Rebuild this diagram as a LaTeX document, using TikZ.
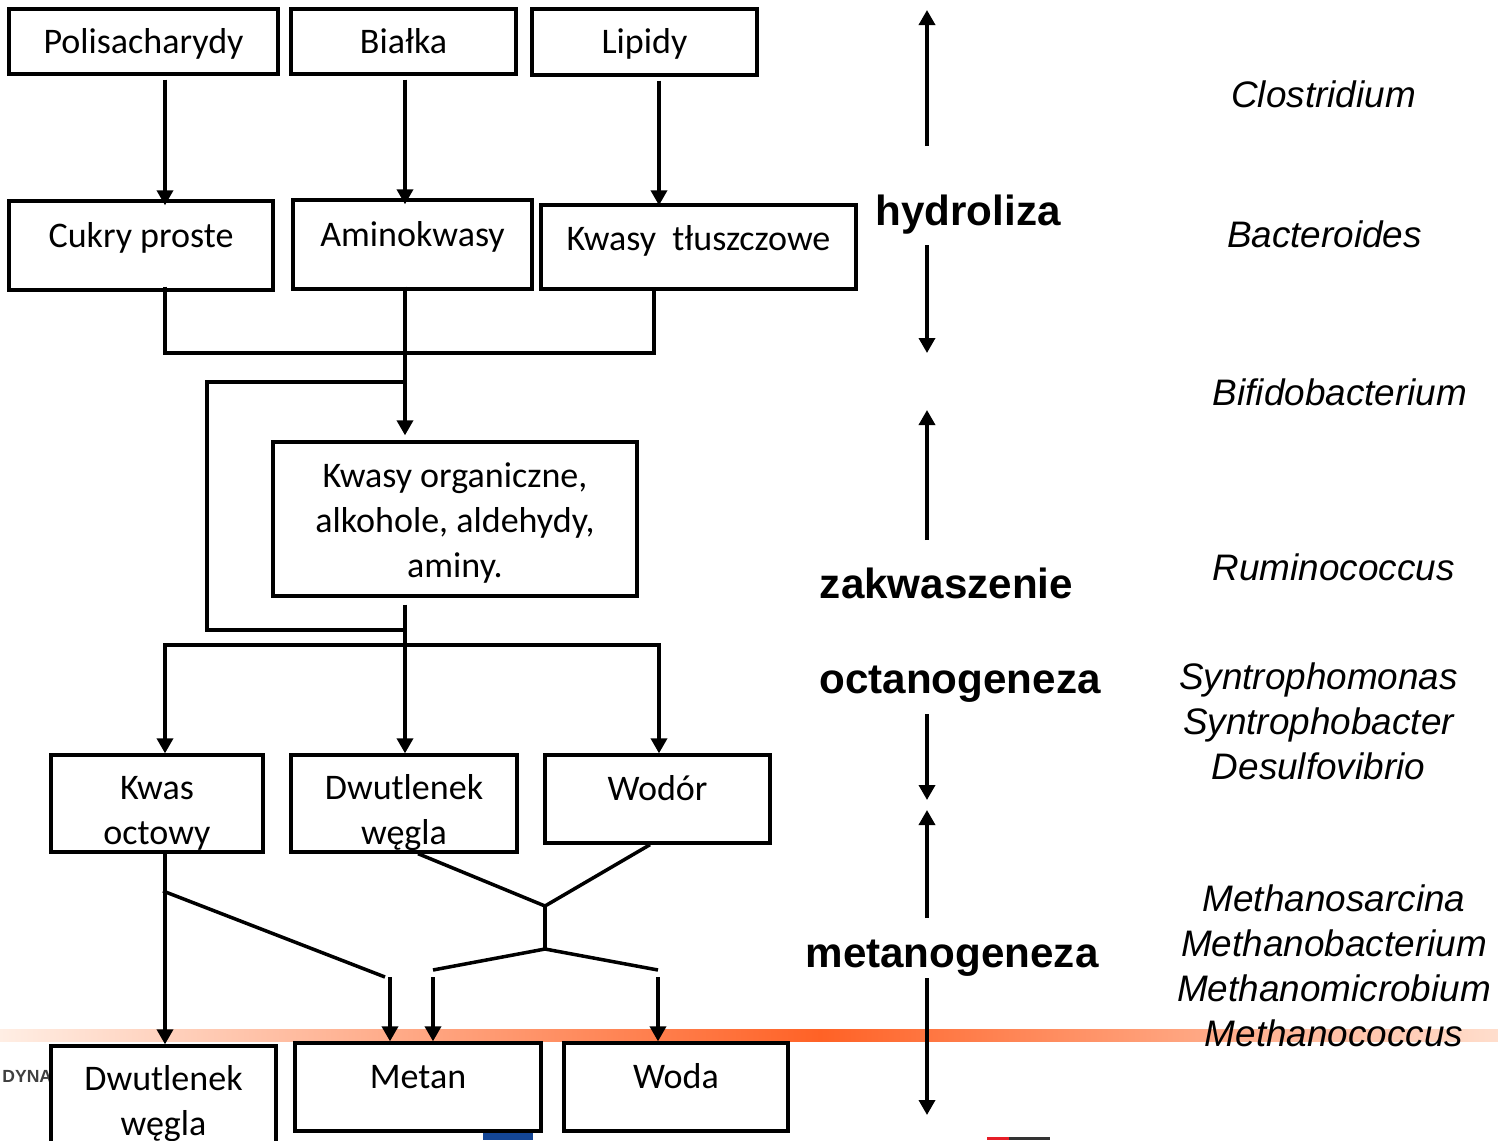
\documentclass[tikz,border=0pt]{standalone}
\usepackage{fontspec}
\setmainfont{Liberation Sans}
\newfontfamily\boxfont{Carlito}
\usetikzlibrary{arrows.meta,positioning}

\definecolor{barorange}{RGB}{255,98,38}
\definecolor{barpale}{RGB}{255,238,228}
\definecolor{barpaleright}{RGB}{255,222,205}
\definecolor{logoblue}{RGB}{20,70,150}
\definecolor{logored}{RGB}{230,30,40}

\tikzset{
    box/.style={draw, line width=1.9pt, fill=white, align=center, inner sep=0pt,
        font=\boxfont\fontsize{20.5}{25.5}\selectfont, text height=0.54cm, text depth=#1},
    box/.default=0.08cm,
    tall/.style={text height=#1, text depth=0.08cm},
    flow/.style={line width=2pt},
    arr/.style={line width=2pt, -{Triangle[length=0.3cm,width=0.32cm]}},
    phase/.style={font=\bfseries\fontsize{24}{29}\selectfont, anchor=base},
    genus/.style={font=\itshape\fontsize{21}{25.6}\selectfont, align=center, inner sep=0pt}
}

\begin{document}
\begin{tikzpicture}[x=0.02cm, y=-0.02cm]
    \useasboundingbox (0,0) rectangle (1498,1140);
    % footer of the slide
    \shade[left color=barpale, right color=barorange] (0,1029) rectangle (820,1041);
    \shade[left color=barorange, right color=barpaleright] (820,1029) rectangle (1498,1041);
    \node[font=\bfseries\fontsize{10}{11}\selectfont, text=black!75, anchor=base west, inner sep=0pt] (footer) at (2,1082) {DYNA};
    \fill[logoblue] (483,1133) rectangle (533,1140);
    \fill[logored] (987,1137) rectangle (1009,1140);
    \fill[black!80] (1009,1137) rectangle (1050,1140);

    % substrates
    \node[box, minimum width=5.38cm, minimum height=1.3cm] (poli) at (143.5,41.5) {Polisacharydy};
    \node[box, minimum width=4.5cm, minimum height=1.3cm] (bialka) at (403.5,41.5) {Białka};
    \node[box, minimum width=4.5cm, minimum height=1.32cm] (lipidy) at (644.5,42) {Lipidy};
    % monomers
    \node[box=0.48cm, minimum width=5.28cm, minimum height=1.78cm] (cukry) at (141,245.5) {Cukry proste};
    \node[box=0.46cm, minimum width=4.78cm, minimum height=1.78cm] (amino) at (412.5,244.5) {Aminokwasy};
    \node[box=0.40cm, minimum width=6.3cm, minimum height=1.68cm] (tluszcz) at (698.5,247) {Kwasy~~tłuszczowe};
    \node[box, tall=2.42cm, minimum width=7.28cm, minimum height=3.08cm] (org) at (455,519) {Kwasy organiczne,\\alkohole, aldehydy,\\aminy.};
    % acetogenesis products
    \node[box, tall=1.72cm, minimum width=4.24cm, minimum height=1.94cm] (octowy) at (157,803.5) {Kwas\\octowy};
    \node[box, tall=1.72cm, minimum width=4.52cm, minimum height=1.94cm] (dwutlA) at (404,803.5) {Dwutlenek\\węgla};
    \node[box=0.48cm, minimum width=4.5cm, minimum height=1.76cm] (wodor) at (657.5,799) {Wodór};
    % end products
    \node[box, tall=1.38cm, minimum width=4.5cm, minimum height=2.28cm] (dwutlB) at (163.5,1103) {Dwutlenek\\węgla};
    \node[box=0.48cm, minimum width=4.92cm, minimum height=1.76cm] (metan) at (418,1087) {Metan};
    \node[box=0.48cm, minimum width=4.48cm, minimum height=1.76cm] (woda) at (676,1087) {Woda};

    \coordinate (colA) at (165,0);
    \coordinate (colB) at (405,0);
    \coordinate (colC) at (659,0);
    \coordinate (colD) at (654,0);

    \draw[arr, shorten <=0.08cm, shorten >=-0.12cm] (poli.south -| colA) -- (cukry.north -| colA);
    \draw[arr, shorten <=0.08cm, shorten >=-0.12cm] (bialka.south -| colB) -- (amino.north -| colB);
    \draw[arr, shorten <=0.08cm, shorten >=-0.04cm] (lipidy.south -| colC) -- (tluszcz.north -| colC);

    \coordinate (merge) at (405,353);
    \draw[flow, shorten <=-0.1cm] (cukry.south -| colA) |- (merge) -| (tluszcz.south -| colD);
    \draw[arr, shorten <=-0.08cm, shorten >=0.1cm] (amino.south -| colB) -- (org.north -| colB);

    \coordinate (loopin) at (407,382);
    \coordinate (loopout) at (407,630);
    \draw[flow] (loopin) -- ++(-200,0) |- (loopout);

    \draw[arr, shorten <=0.14cm] (org.south -| colB) -- (dwutlA.north -| colB);
    \coordinate (split) at (405,645);
    \draw[arr] (split) -| (octowy.north -| colA);
    \draw[arr] (split) -| (wodor.north -| colC);

    % methanogenesis
    \draw[arr] (octowy.south -| colA) -- (dwutlB.north -| colA);
    \coordinate (acet) at (163,891);
    \coordinate (acetend) at (385,977);
    \coordinate (toMetanA) at (390,977);
    \coordinate (toMetanB) at (433,977);
    \coordinate (toWoda) at (658,977);
    \coordinate (hub) at (545,906);
    \coordinate (hubLow) at (545,949);
    \draw[flow] (acet) -- (acetend);
    \draw[flow] ([xshift=0.28cm]dwutlA.south) -- (hub) -- ([xshift=-0.15cm]wodor.south);
    \draw[flow] (hub) -- (hubLow);
    \draw[flow] ([yshift=0.14cm]toMetanB) -- (hubLow) -- ([yshift=0.14cm]toWoda);
    \draw[arr] (toMetanA) -- (metan.north -| toMetanA);
    \draw[arr] (toMetanB) -- (metan.north -| toMetanB);
    \draw[arr] (toWoda) -- (woda.north -| toWoda);

    % phases
    \foreach \ya/\yb in {146/10, 245/353, 540/410, 714/800, 918/810, 978/1115}
        \draw[arr] (927,\ya) -- (927,\yb);
    \node[phase] (hydro) at (968,225) {hydroliza};
    \node[phase] (zakw) at (946.5,598) {zakwaszenie};
    \node[phase] (octan) at (960,693) {octanogeneza};
    \node[phase] (metano) at (952,967) {metanogeneza};

    % bacteria
    \node[genus, anchor=base] (clostr) at (1323.5,107) {Clostridium};
    \node[genus, anchor=base] (bacter) at (1324.5,247) {Bacteroides};
    \node[genus, anchor=base] (bifido) at (1340,405) {Bifidobacterium};
    \node[genus, anchor=base] (rumino) at (1333.5,580) {Ruminococcus};
    \node[genus, anchor=north] (syntro) at (1318.5,662) {Syntrophomonas\\Syntrophobacter\\Desulfovibrio};
    \node[genus, anchor=north] (methano) at (1334,884) {Methanosarcina\\Methanobacterium\\Methanomicrobium\\Methanococcus};
\end{tikzpicture}
\end{document}
